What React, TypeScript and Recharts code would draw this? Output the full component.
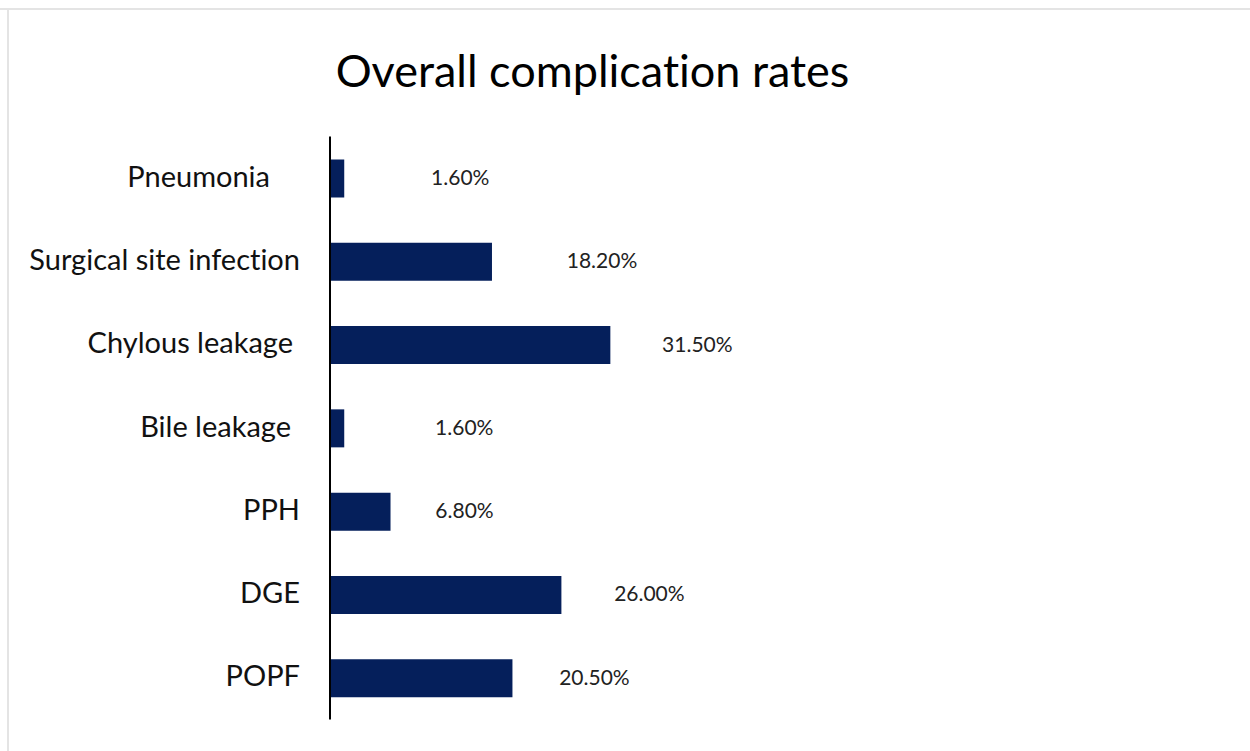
import { BarChart, Bar, XAxis, YAxis, LabelList } from 'recharts'

const complications = [
  'Pneumonia',
  'Surgical site infection',
  'Chylous leakage',
  'Bile leakage',
  'PPH',
  'DGE',
  'POPF',
]
const rates = [1.6, 18.2, 31.5, 1.6, 6.8, 26.0, 20.5]

// hand-placed text boxes: horizontal nudges for category names and value labels
const nameShift = [-30, 0, -7, -9, 0, 0, 0]
const valueShift = [116, 110, 87, 120, 74, 88, 82]

const BAR_COLOR = '#051f5b'
const FONT = 'Lato, "Open Sans", sans-serif'
const NO_LIGATURES = { fontVariantLigatures: 'none' as const }

const rows = complications.map((name, i) => ({ name, rate: rates[i], idx: i }))

function CategoryTick(props: any) {
  const { y, payload, index } = props
  return (
    <text
      x={300 + (nameShift[index] ?? 0)}
      y={y - 3}
      textAnchor="end"
      dominantBaseline="central"
      fontFamily={FONT}
      fontSize={29}
      fill="#111"
      style={NO_LIGATURES}
    >
      {payload.value}
    </text>
  )
}

function ValueLabel(props: any) {
  const { x, y, width, height, value, index } = props
  return (
    <text
      x={x + width + (valueShift[index] ?? 80)}
      y={y + height / 2 - 2}
      textAnchor="middle"
      dominantBaseline="central"
      fontFamily={FONT}
      fontSize={21}
      fill="#222"
    >
      {Number(value).toFixed(2)}%
    </text>
  )
}

export default function App() {
  return (
    <div style={{ position: 'absolute', left: 0, top: 0, width: 1250, height: 751, background: '#fff' }}>
      <div style={{ position: 'absolute', left: 0, top: 8, width: 1250, height: 2, background: '#e4e4e4' }} />
      <div style={{ position: 'absolute', left: 7, top: 8, width: 2, height: 743, background: '#e4e4e4' }} />
      <div
        style={{
          position: 'absolute',
          left: 0,
          width: 1185,
          top: 46,
          lineHeight: '48px',
          textAlign: 'center',
          fontFamily: FONT,
          fontSize: 45,
          color: '#000',
          ...NO_LIGATURES,
        }}
      >
        Overall complication rates
      </div>
      <div style={{ position: 'absolute', left: 0, top: 0 }}>
        <BarChart
          width={1250}
          height={751}
          data={rows}
          layout="vertical"
          margin={{ top: 136.5, right: 30, bottom: 31.5, left: 0 }}
          barSize={38}
        >
          <XAxis type="number" domain={[0, 100]} hide />
          <YAxis
            type="category"
            dataKey="name"
            width={330}
            axisLine={{ stroke: '#000', strokeWidth: 2 }}
            tickLine={false}
            tick={<CategoryTick />}
            interval={0}
          />
          <Bar dataKey="rate" fill={BAR_COLOR} isAnimationActive={false}>
            <LabelList dataKey="rate" content={<ValueLabel />} />
          </Bar>
        </BarChart>
      </div>
    </div>
  )
}
